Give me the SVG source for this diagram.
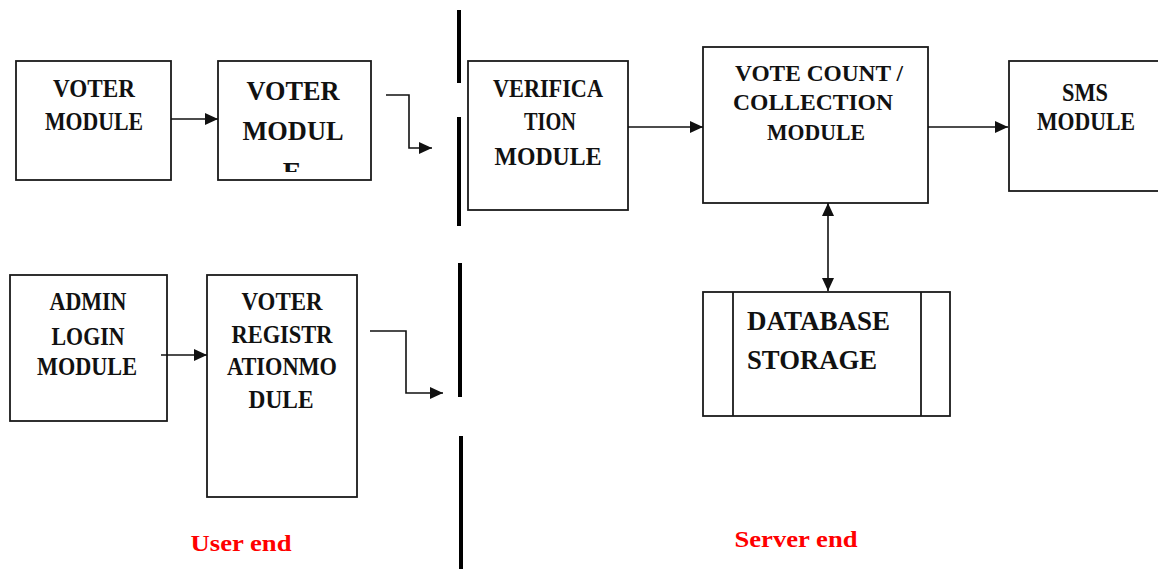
<svg xmlns="http://www.w3.org/2000/svg" width="1158" height="569" viewBox="0 0 1158 569">
<style>
.box{fill:#fff;stroke:#1a1a1a;stroke-width:1.8}
.t{font-family:"Liberation Serif","Times New Roman",serif;font-weight:bold;fill:#111;text-anchor:middle}
.lbl{font-family:"Liberation Serif","Times New Roman",serif;font-weight:bold;fill:#ff0000;text-anchor:middle;font-size:24px}
.c{fill:none;stroke:#111;stroke-width:1.6}
.div{stroke:#000;stroke-width:4}
</style>
<defs>
<marker id="ah" markerUnits="userSpaceOnUse" markerWidth="15" markerHeight="14" refX="13" refY="7" orient="auto-start-reverse">
<path d="M0,1 L13,7 L0,13 Z" fill="#111"/>
</marker>
<clipPath id="clipv2"><rect x="219" y="62" width="151" height="110"/></clipPath>
</defs>

<g id="dividers">
<line class="div" x1="459" y1="10" x2="459" y2="83"/>
<line class="div" x1="459" y1="117" x2="459" y2="226"/>
<line class="div" x1="460" y1="263" x2="460" y2="397"/>
<line class="div" x1="461" y1="436" x2="461" y2="569"/>
</g>

<g id="voter-module-1">
<rect class="box" x="16" y="61" width="155" height="119"/>
<text class="t" font-size="26" x="94" y="97" textLength="82" lengthAdjust="spacingAndGlyphs">VOTER</text>
<text class="t" font-size="26" x="94" y="130" textLength="98" lengthAdjust="spacingAndGlyphs">MODULE</text>
</g>

<g id="voter-module-2">
<rect class="box" x="218" y="61" width="153" height="119"/>
<g clip-path="url(#clipv2)">
<text class="t" font-size="28" x="293" y="100" textLength="93" lengthAdjust="spacingAndGlyphs">VOTER</text>
<text class="t" font-size="28" x="293" y="140" textLength="101" lengthAdjust="spacingAndGlyphs">MODUL</text>
<text class="t" font-size="28" x="292" y="181">E</text>
</g>
</g>

<g id="verification-module">
<rect class="box" x="468" y="61" width="160" height="149"/>
<text class="t" font-size="26" x="548" y="97" textLength="110" lengthAdjust="spacingAndGlyphs">VERIFICA</text>
<text class="t" font-size="26" x="550" y="130" textLength="52" lengthAdjust="spacingAndGlyphs">TION</text>
<text class="t" font-size="26" x="548" y="165" textLength="107" lengthAdjust="spacingAndGlyphs">MODULE</text>
</g>

<g id="vote-count-module">
<rect class="box" x="703" y="47" width="225" height="156"/>
<text class="t" font-size="24" x="819" y="81" textLength="168" lengthAdjust="spacingAndGlyphs">VOTE COUNT /</text>
<text class="t" font-size="24" x="813" y="110" textLength="160" lengthAdjust="spacingAndGlyphs">COLLECTION</text>
<text class="t" font-size="24" x="816" y="140" textLength="98" lengthAdjust="spacingAndGlyphs">MODULE</text>
</g>

<g id="sms-module">
<rect class="box" x="1009" y="61" width="160" height="130"/>
<text class="t" font-size="26" x="1085" y="101" textLength="46" lengthAdjust="spacingAndGlyphs">SMS</text>
<text class="t" font-size="26" x="1086" y="130" textLength="98" lengthAdjust="spacingAndGlyphs">MODULE</text>
</g>

<g id="admin-login-module">
<rect class="box" x="10" y="275" width="157" height="146"/>
<text class="t" font-size="26" x="88" y="310" textLength="77" lengthAdjust="spacingAndGlyphs">ADMIN</text>
<text class="t" font-size="26" x="88" y="345" textLength="73" lengthAdjust="spacingAndGlyphs">LOGIN</text>
<text class="t" font-size="26" x="87" y="375" textLength="100" lengthAdjust="spacingAndGlyphs">MODULE</text>
</g>

<g id="voter-registration-module">
<rect class="box" x="207" y="275" width="150" height="222"/>
<text class="t" font-size="26" x="282" y="310" textLength="81" lengthAdjust="spacingAndGlyphs">VOTER</text>
<text class="t" font-size="26" x="282" y="343" textLength="101" lengthAdjust="spacingAndGlyphs">REGISTR</text>
<text class="t" font-size="26" x="282" y="375" textLength="110" lengthAdjust="spacingAndGlyphs">ATIONMO</text>
<text class="t" font-size="26" x="281" y="408" textLength="65" lengthAdjust="spacingAndGlyphs">DULE</text>
</g>

<g id="database-storage">
<rect class="box" x="703" y="292" width="247" height="124"/>
<line class="box" x1="733" y1="292" x2="733" y2="416"/>
<line class="box" x1="921" y1="292" x2="921" y2="416"/>
<text class="t" font-size="28" x="747" y="330" style="text-anchor:start" textLength="143" lengthAdjust="spacingAndGlyphs">DATABASE</text>
<text class="t" font-size="28" x="747" y="369" style="text-anchor:start" textLength="130" lengthAdjust="spacingAndGlyphs">STORAGE</text>
</g>

<g id="connectors">
<path class="c" d="M171,119 H218" marker-end="url(#ah)"/>
<path class="c" d="M386,95 H409 V148 H432" marker-end="url(#ah)"/>
<path class="c" d="M628,127 H703" marker-end="url(#ah)"/>
<path class="c" d="M928,127 H1008" marker-end="url(#ah)"/>
<path class="c" d="M828,203 V291" marker-start="url(#ah)" marker-end="url(#ah)"/>
<path class="c" d="M161,355 H207" marker-end="url(#ah)"/>
<path class="c" d="M370,331 H406 V393 H443" marker-end="url(#ah)"/>
</g>

<g id="labels">
<text class="lbl" x="241" y="551" textLength="101" lengthAdjust="spacingAndGlyphs">User end</text>
<text class="lbl" x="796" y="547" textLength="123" lengthAdjust="spacingAndGlyphs">Server end</text>
</g>
</svg>
